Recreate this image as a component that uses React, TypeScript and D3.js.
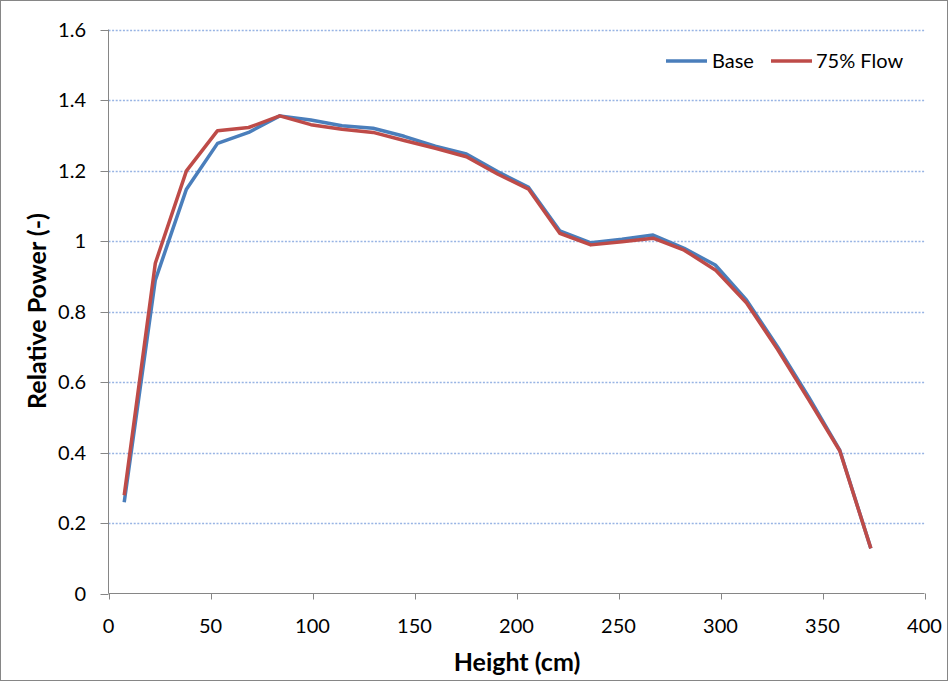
import React from "react";
import * as d3 from "d3";

// Axial position along the assembly (cm)
const heights = [
  7.7, 22.95, 38.2, 53.45, 68.7, 83.95, 99.2, 114.45, 129.7, 144.95, 160.2,
  175.45, 190.7, 205.95, 221.2, 236.45, 251.7, 266.95, 282.2, 297.45, 312.7,
  327.95, 343.2, 358.45, 373.7,
];

// Relative power, base case
const baseValues = [
  0.259, 0.889, 1.147, 1.277, 1.308, 1.355, 1.343, 1.327, 1.320, 1.297, 1.269,
  1.247, 1.197, 1.152, 1.029, 0.995, 1.005, 1.017, 0.979, 0.932, 0.833, 0.700,
  0.558, 0.407, 0.128,
];

// Relative power, 75% flow case
const flowValues = [
  0.279, 0.937, 1.199, 1.313, 1.322, 1.355, 1.330, 1.317, 1.308, 1.285, 1.263,
  1.239, 1.190, 1.147, 1.022, 0.989, 0.998, 1.008, 0.974, 0.918, 0.825, 0.693,
  0.550, 0.405, 0.128,
];

const seriesNames = ["Base", "75% Flow"];
const seriesColors = ["#4a7ebb", "#be4b48"];

const xTicks = [0, 50, 100, 150, 200, 250, 300, 350, 400];
const yTicks = [0, 0.2, 0.4, 0.6, 0.8, 1, 1.2, 1.4, 1.6];

const W = 948;
const H = 681;
const plot = { left: 108.5, right: 924.5, top: 29.5, bottom: 593.5 };
const FONT = "Lato, 'Open Sans', sans-serif";

export default function App() {
  const x = d3.scaleLinear().domain([0, 400]).range([plot.left, plot.right]);
  const y = d3.scaleLinear().domain([0, 1.6]).range([plot.bottom, plot.top]);

  const line = d3
    .line<[number, number]>()
    .x((d) => x(d[0]))
    .y((d) => y(d[1]));

  const series = [baseValues, flowValues].map((vals) =>
    heights.map((h, i) => [h, vals[i]] as [number, number])
  );

  const legendY = 61;
  const legendItems = [
    { x1: 666, x2: 707, tx: 712 },
    { x1: 771, x2: 812, tx: 816 },
  ];

  return (
    <svg
      width={W}
      height={H}
      style={{ position: "absolute", left: 0, top: 0, background: "#fff" }}
      fontFamily={FONT}
    >
      <rect x={0.5} y={0.5} width={W - 1} height={H - 1} fill="#fff" stroke="#868686" strokeWidth={1} />

      {/* horizontal gridlines */}
      {yTicks.filter((t) => t > 0).map((t) => (
        <line
          key={`g${t}`}
          x1={plot.left}
          x2={plot.right}
          y1={Math.round(y(t)) + 0.5}
          y2={Math.round(y(t)) + 0.5}
          stroke="#98b4e4"
          strokeWidth={1.3}
          strokeDasharray="2,1.6"
        />
      ))}

      {/* y axis */}
      <line x1={plot.left} x2={plot.left} y1={plot.top} y2={plot.bottom} stroke="#868686" />
      {yTicks.map((t) => (
        <g key={`y${t}`}>
          <line
            x1={plot.left - 8}
            x2={plot.left}
            y1={Math.round(y(t)) + 0.5}
            y2={Math.round(y(t)) + 0.5}
            stroke="#868686"
          />
          <text x={86} y={y(t)} dy="0.36em" textAnchor="end" fontSize={20} fill="#000">
            {d3.format("~g")(t)}
          </text>
        </g>
      ))}

      {/* x axis */}
      <line x1={plot.left} x2={plot.right} y1={plot.bottom} y2={plot.bottom} stroke="#868686" />
      {xTicks.map((t) => (
        <g key={`x${t}`}>
          <line
            x1={Math.round(x(t)) + 0.5}
            x2={Math.round(x(t)) + 0.5}
            y1={plot.bottom}
            y2={plot.bottom + 6}
            stroke="#868686"
          />
          <text x={x(t)} y={633} textAnchor="middle" fontSize={20} fill="#000">
            {t}
          </text>
        </g>
      ))}

      {/* series */}
      {series.map((pts, i) => (
        <path
          key={seriesNames[i]}
          d={line(pts) ?? ""}
          fill="none"
          stroke={seriesColors[i]}
          strokeWidth={3.5}
          strokeLinejoin="round"
        />
      ))}

      {/* legend */}
      {legendItems.map((it, i) => (
        <g key={`l${i}`}>
          <line x1={it.x1} x2={it.x2} y1={legendY} y2={legendY} stroke={seriesColors[i]} strokeWidth={3.5} />
          <text x={it.tx} y={legendY} dy="0.36em" fontSize={20} fill="#000">
            {seriesNames[i]}
          </text>
        </g>
      ))}

      {/* axis titles */}
      <text x={517} y={671} textAnchor="middle" fontSize={25} fontWeight="bold" fill="#000">
        Height (cm)
      </text>
      <text
        transform={`translate(46,311) rotate(-90)`}
        textAnchor="middle"
        fontSize={25}
        fontWeight="bold"
        fill="#000"
      >
        Relative Power (-)
      </text>
    </svg>
  );
}
